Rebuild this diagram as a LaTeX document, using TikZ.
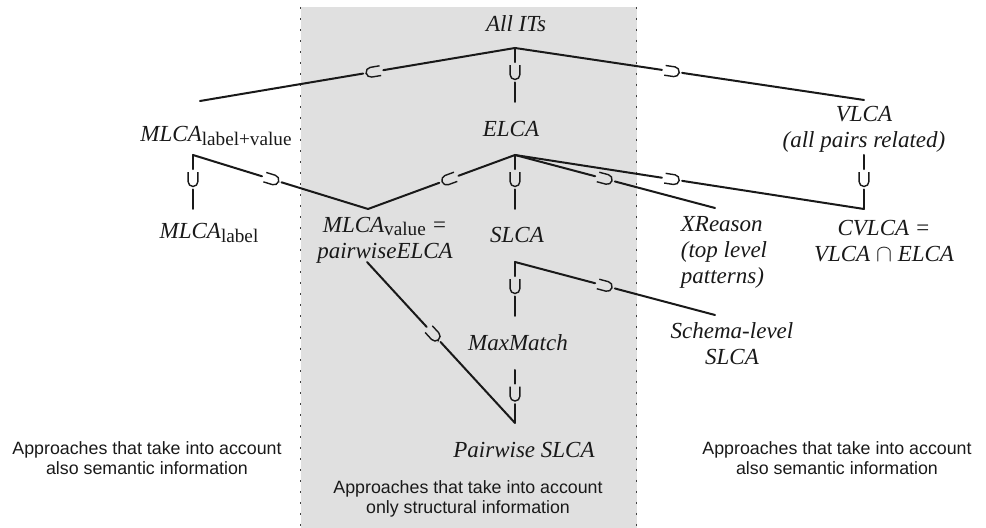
\documentclass[tikz,border=0pt]{standalone}
\usepackage{fontspec}
\setmainfont{Liberation Serif}
\newfontfamily\notefont{Liberation Sans}
\definecolor{zonegray}{RGB}{224,224,224}
\definecolor{ink}{RGB}{25,25,25}
% upright index written after a method name
\newcommand\lowidx[1]{\raisebox{-0.35ex}{\fontsize{9.6}{10}\selectfont\upshape #1}}
% child ⊂ parent: a line broken by a subset sign turned along it
\newcommand\subrel[3]{%
  \path (#1) -- node[subbox] (#3) {} (#2);
  \draw[subsign] (#3.north east) -- (#3.north west) -- (#3.south west) -- (#3.south east);
  \draw[link, shorten >=1.5pt] (#1) -- (#3);
  \draw[link, shorten <=1.5pt] (#3) -- (#2);}
\begin{document}
\begin{tikzpicture}[x=0.5pt,y=-0.5pt,
  term/.style={font=\fontsize{11.5}{13}\selectfont\itshape, inner sep=0pt, align=center, text=ink},
  note/.style={font=\notefont\fontsize{8.9}{10}\selectfont, inner sep=0pt, align=center, text=ink},
  link/.style={line width=1pt, line cap=round, draw=ink},
  subbox/.style={sloped, allow upside down, pos=0.55, inner sep=0pt, outer sep=0pt,
    minimum width=7.2pt, minimum height=4.9pt},
  subsign/.style={line width=0.7pt, draw=ink, rounded corners=2.45pt},
  zoneline/.style={line width=0.8pt, dash pattern=on 0.8pt off 4.7pt, draw=black!75}]

\useasboundingbox (0,0) rectangle (986,528);

% zone of purely structural approaches
\fill[zonegray] (300.5,7) rectangle (636.5,528);
\draw[zoneline] (300.5,7) -- (300.5,528);
\draw[zoneline] (636.5,7) -- (636.5,528);

% methods
\node[term] (all)    at (516,24)  {All ITs};
\node[term] (elca)   at (511,129) {ELCA};
\node[term] (mlv)    at (216,136) {MLCA\lowidx{label+value}};
\node[term] (ml)     at (209,233) {MLCA\lowidx{label}};
\node[term] (mv)     at (385,240) {MLCA\lowidx{value} =\\pairwiseELCA};
\node[term] (slca)   at (517,235) {SLCA};
\node[term] (vlca)   at (864,129) {VLCA\\(all pairs related)};
\node[term, align=left] (xr) at (724,252) {XReason\\(top level\\patterns)};
\node[term] (cv)     at (884,241) {CVLCA =\\VLCA $\cap$ ELCA};
\node[term] (schema) at (732,344) {Schema-level\\SLCA};
\node[term] (mm)     at (518,343) {MaxMatch};
\node[term] (pw)     at (524,450) {Pairwise SLCA};

% zone captions
\node[note] (semL) at (147,458) {Approaches that take into account\\also semantic information};
\node[note] (semR) at (837,458) {Approaches that take into account\\also semantic information};
\node[note] (str)  at (468,499) {Approaches that take into account\\only structural information};

% attachment points of the connectors
\coordinate (allB)  at (515,48);
\coordinate (mlvT)  at (200,101);
\coordinate (elcaT) at (515,102);
\coordinate (vlcaT) at (864,100);
\coordinate (elcaB) at (515,155);
\coordinate (mvT)   at (368,209);
\coordinate (slcaT) at (515,209);
\coordinate (xrT)   at (715,208);
\coordinate (cvT)   at (864,209);
\coordinate (vlcaB) at (864,155);
\coordinate (mlvB)  at (193,155);
\coordinate (mlT)   at (193,209);
\coordinate (slcaB) at (515,262);
\coordinate (mmT)   at (515,316);
\coordinate (schT)  at (715,315);
\coordinate (mmB)   at (515,370);
\coordinate (pwT)   at (515,423);
\coordinate (mvB)   at (367,262);

% containment relations
\subrel{mlvT}{allB}{s1}
\subrel{elcaT}{allB}{s2}
\subrel{vlcaT}{allB}{s3}
\subrel{mvT}{elcaB}{s4}
\subrel{slcaT}{elcaB}{s5}
\subrel{xrT}{elcaB}{s6}
\subrel{cvT}{elcaB}{s7}
\subrel{cvT}{vlcaB}{s8}
\subrel{mlT}{mlvB}{s9}
\subrel{mvT}{mlvB}{s10}
\subrel{mmT}{slcaB}{s11}
\subrel{schT}{slcaB}{s12}
\subrel{pwT}{mmB}{s13}
\subrel{pwT}{mvB}{s14}
\end{tikzpicture}
\end{document}
